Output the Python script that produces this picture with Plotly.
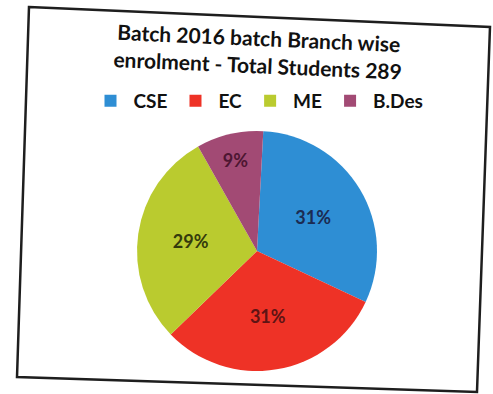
import plotly.graph_objects as go

# Branch-wise enrolment, batch 2016 (289 students in total)
branches = ["CSE", "EC", "ME", "B.Des"]
students = [90, 89, 84, 26]
slice_colors = ["#2E8ED4", "#EE3226", "#BACB2F", "#A24A74"]
label_colors = ["#1B2B52", "#5E1414", "#343A0C", "#4E1632"]
title_lines = ["Batch 2016 batch Branch wise", "enrolment - Total Students 289"]

FONT = "Lato, 'Open Sans', sans-serif"
W, H = 493, 394

fig = go.Figure(
    go.Pie(
        labels=branches,
        values=students,
        sort=False,
        direction="clockwise",
        rotation=3,
        marker=dict(colors=slice_colors, line=dict(width=0)),
        textinfo="percent",
        texttemplate="%{percent:.0%}",
        textposition="inside",
        insidetextorientation="horizontal",
        insidetextfont=dict(family=FONT, size=18, color=label_colors, weight="bold"),
        hoverinfo="label+value+percent",
        domain=dict(x=[137 / W, 377 / W], y=[(H - 371) / H, (H - 131) / H]),
    )
)

# Tilted chart frame
corners = [(29, 7), (490, 27), (477, 392), (17, 377)]
path = "M " + " L ".join(f"{x / W:.4f},{1 - y / H:.4f}" for x, y in corners) + " Z"
fig.add_shape(type="path", path=path, xref="paper", yref="paper",
              line=dict(color="#1E1E1E", width=2.5), fillcolor="rgba(0,0,0,0)")

# Chart title
fig.add_annotation(
    text="<br>".join(title_lines),
    x=258 / W, y=1 - 51 / H, xref="paper", yref="paper",
    xanchor="center", yanchor="middle", showarrow=False, textangle=2.5,
    font=dict(family=FONT, size=21, color="#111111", weight="bold"),
)

fig.update_layout(
    width=W, height=H,
    margin=dict(l=0, r=0, t=0, b=0),
    paper_bgcolor="white",
    plot_bgcolor="white",
    showlegend=True,
    legend=dict(
        orientation="h",
        x=258 / W, xanchor="center",
        y=1 - 101 / H, yanchor="middle",
        font=dict(family=FONT, size=19, color="#111111", weight="bold"),
        itemsizing="constant",
        itemwidth=36,
        traceorder="normal",
    ),
)

fig.write_html("out.html")
